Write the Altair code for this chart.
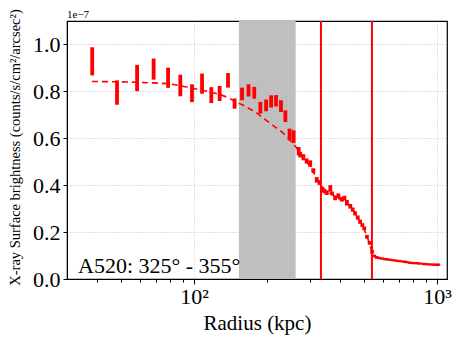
import altair as alt
import pandas as pd

# --- data ---
radius = [38.1, 48.2, 58.3, 68.2, 78.2, 87.8, 98.1, 107.9, 117.8, 127.5, 138, 146.9,
          157.6, 167.7, 177, 187.5, 198, 207.6, 217.5, 228, 237.7, 247.4, 257, 269.6,
          273.8, 282, 291, 301, 310, 320, 328.5, 336, 344, 352, 364, 370, 381, 393, 406,
          416, 426, 440, 450, 460, 472, 483, 493, 502, 515, 528, 541, 552, 565, 580,
          595, 610, 621, 640, 660, 684, 705, 730, 750, 775, 800, 825, 850, 881, 910,
          940, 970, 1000, 1013]
sb = [0.928, 0.795, 0.857, 0.895, 0.858, 0.825, 0.792, 0.833, 0.784, 0.791, 0.847, 0.748,
      0.789, 0.804, 0.794, 0.730, 0.740, 0.757, 0.760, 0.737, 0.694, 0.616, 0.607, 0.545,
      0.530, 0.519, 0.503, 0.492, 0.462, 0.423, 0.411, 0.382, 0.373, 0.368, 0.386, 0.365,
      0.346, 0.355, 0.340, 0.345, 0.325, 0.310, 0.296, 0.280, 0.262, 0.244, 0.230, 0.216,
      0.180, 0.154, 0.116, 0.098, 0.092, 0.089, 0.087, 0.085, 0.084, 0.082, 0.080, 0.078,
      0.076, 0.074, 0.072, 0.069, 0.068, 0.067, 0.066, 0.064, 0.063, 0.062, 0.061, 0.060,
      0.061]
err = [0.060, 0.052, 0.056, 0.045, 0.043, 0.046, 0.038, 0.043, 0.034, 0.032, 0.031, 0.022,
       0.027, 0.026, 0.025, 0.025, 0.025, 0.026, 0.024, 0.025, 0.025, 0.025, 0.027, 0.018,
       0.012, 0.013, 0.011, 0.014, 0.010, 0.012, 0.010, 0.011, 0.008, 0.010, 0.014, 0.008,
       0.010, 0.010, 0.010, 0.010, 0.012, 0.010, 0.009, 0.009, 0.009, 0.009, 0.008, 0.008,
       0.008, 0.008, 0.008, 0.006, 0.006, 0.005, 0.005, 0.005, 0.005, 0.005, 0.005, 0.005,
       0.005, 0.005, 0.005, 0.005, 0.005, 0.005, 0.005, 0.005, 0.005, 0.005, 0.005, 0.005,
       0.005]

model_r = [38, 48, 58, 68, 78, 88, 98, 108, 118, 128, 138, 148, 158, 167, 179, 190, 203,
           216, 230, 245, 261, 280, 300, 320, 335, 350, 370, 390, 420, 440, 460, 485, 505,
           520, 535, 545, 560, 600, 680, 780, 880, 1010]
model_v = [0.842, 0.841, 0.839, 0.836, 0.833, 0.824, 0.813, 0.805, 0.796, 0.786, 0.774,
           0.756, 0.743, 0.729, 0.712, 0.691, 0.669, 0.648, 0.627, 0.599, 0.566, 0.525,
           0.480, 0.430, 0.395, 0.375, 0.360, 0.345, 0.330, 0.310, 0.280, 0.240, 0.205,
           0.170, 0.130, 0.105, 0.094, 0.086, 0.078, 0.070, 0.065, 0.061]

span_lo = [153]
span_hi = [262]
vlines = [333, 540]
label_text = ["A520: 325° - 355°"]
y_ticks = [0.0, 0.2, 0.4, 0.6, 0.8, 1.0]
x_ticks = [40, 50, 60, 70, 80, 90, 100, 200, 300, 400, 500, 600, 700, 800, 900, 1000]

W, H = 380, 258
FONT = "Liberation Serif"

pts = pd.DataFrame({"r": radius, "v": sb, "e": err})
pts["lo"] = pts["v"] - pts["e"]
pts["hi"] = pts["v"] + pts["e"]
model = pd.DataFrame({"r": model_r, "v": model_v})
span = pd.DataFrame({"a": span_lo, "b": span_hi})
vl = pd.DataFrame({"r": vlines})
lab = pd.DataFrame({"t": label_text})
off = pd.DataFrame({"t": ["1e\u22127"]})

xscale = alt.Scale(type="log", domain=[30, 1100], nice=False)
yscale = alt.Scale(domain=[0, 1.1], nice=False, zero=True)

major = "datum.value === 100 || datum.value === 1000"
xaxis = alt.Axis(
    values=x_ticks,
    labelExpr="datum.value === 100 ? '10²' : (datum.value === 1000 ? '10³' : '')",
    gridOpacity={"condition": {"test": major, "value": 1}, "value": 0},
    tickSize={"condition": {"test": major, "value": 5}, "value": 3},
    title="Radius (kpc)",
    titleFontSize=21, titleFontWeight="normal", titlePadding=5,
    labelFontSize=22, labelPadding=2, labelOverlap=False,
    labelFlush=False,
)
yaxis = alt.Axis(
    values=y_ticks, format=".1f",
    title="X-ray Surface brightness (counts/s/cm²/arcsec²)",
    titleFontSize=14.5, titleFontWeight="normal",
    titleX=-45, titleY=H / 2 - 3,
    labelFontSize=22, tickSize=4, labelPadding=3,
)

shade = alt.Chart(span).mark_rect(color="#bfbfbf").encode(
    x=alt.X("a:Q", scale=xscale, axis=xaxis), x2="b:Q",
    y=alt.value(0), y2=alt.value(H),
)
lines = alt.Chart(vl).mark_rule(color="#ff0000", strokeWidth=2).encode(
    x=alt.X("r:Q", scale=xscale), y=alt.value(0), y2=alt.value(H),
)
mline = alt.Chart(model).mark_line(color="#ff0000", strokeDash=[6, 4], strokeWidth=1.6).encode(
    x=alt.X("r:Q", scale=xscale),
    y=alt.Y("v:Q", scale=yscale, axis=yaxis),
)
bars = alt.Chart(pts).mark_rule(color="#ff0000", strokeWidth=3.8).encode(
    x=alt.X("r:Q", scale=xscale),
    y=alt.Y("lo:Q", scale=yscale, axis=yaxis), y2="hi:Q",
)
txt = alt.Chart(lab).mark_text(font=FONT, fontSize=22, align="left",
                               baseline="alphabetic", color="black").encode(
    text="t:N", x=alt.value(11), y=alt.value(H - 6),
)
offtxt = alt.Chart(off).mark_text(font=FONT, fontSize=11, align="left",
                                  baseline="alphabetic", color="black").encode(
    text="t:N", x=alt.value(0), y=alt.value(-3),
)

chart = alt.layer(shade, lines, mline, bars, txt, offtxt).resolve_scale(
    x="shared", y="shared"
).properties(
    width=W, height=H,
    autosize=alt.AutoSizeParams(type="none"),
    padding={"left": 59, "top": 13, "right": 8, "bottom": 60},
).configure(
    font=FONT
).configure_view(
    stroke="black", strokeWidth=1.2
).configure_axis(
    gridColor="#b0b0b0", gridDash=[1, 2], gridWidth=0.8,
    domainColor="black", tickColor="black", labelColor="black", titleColor="black",
    labelFont=FONT, titleFont=FONT,
)

chart.save("out.html", embed_options={"renderer": "svg", "actions": False})
